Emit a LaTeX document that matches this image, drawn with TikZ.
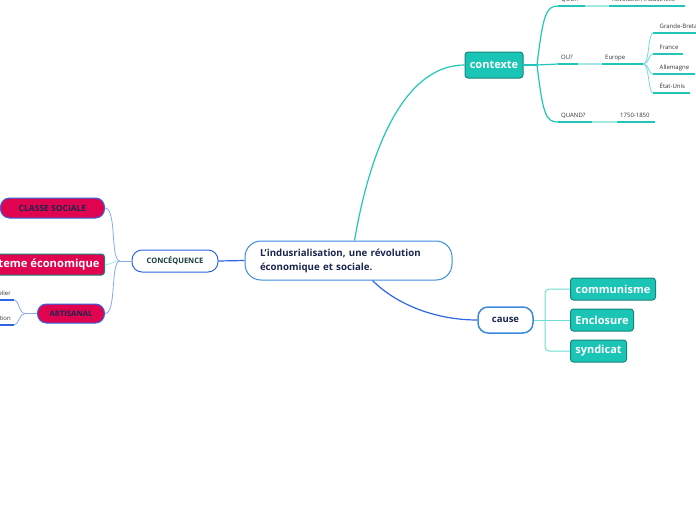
\documentclass[tikz,border=0pt]{standalone}
\usepackage{fontspec}
\setmainfont{Open Sans}
\usetikzlibrary{positioning}

\definecolor{tealfill}{HTML}{1BC5B6}
\definecolor{tealdark}{HTML}{13867C}
\definecolor{tealline}{HTML}{22C6B8}
\definecolor{teallight}{HTML}{A2E9E3}
\definecolor{tealmid}{HTML}{6FDCD3}
\definecolor{bluebord}{HTML}{3B8BDD}
\definecolor{blueline}{HTML}{2F66E4}
\definecolor{bluelight}{HTML}{86A9F0}
\definecolor{redfill}{HTML}{E0034F}
\definecolor{navy}{HTML}{1B2650}
\definecolor{darkgreen}{HTML}{173A3A}

\newcommand{\leaffont}{\fontsize{6}{7}\selectfont}
\newcommand{\indentleaf}{\hspace*{3.5pt}}

\tikzset{
  mainnode/.style={draw=bluebord, line width=1pt, fill=white, rounded corners=16pt,
    text=navy, font=\fontsize{9.7}{14}\selectfont\bfseries, align=left,
    text width=177pt, inner xsep=15pt, minimum height=39pt},
  topic/.style={draw=#1, line width=1.2pt, fill=white, rounded corners=10pt,
    text=navy, inner sep=0pt},
  tealbox/.style={draw=tealdark, fill=tealfill, text=white, line width=1pt,
    rounded corners=3pt, font=\fontsize{11}{13}\selectfont\bfseries,
    inner sep=0pt, minimum height=22pt},
  redbox/.style={draw=#1, fill=redfill, line width=1pt, inner sep=0pt,
    font=\fontsize{8.5}{10}\selectfont\bfseries, text=navy, rounded corners=9pt},
  leaf/.style={anchor=south west, inner xsep=3pt, inner ysep=4.5pt,
    text height=4pt, text depth=0pt, font=\leaffont, text=black!80, text width=#1},
  leafr/.style={anchor=south east, inner xsep=3pt, inner ysep=4.5pt,
    text height=4pt, text depth=0pt, font=\leaffont, text=black!80},
  underline/.style={draw=#1, line width=1.3pt},
  conn/.style={draw=#1, line width=0.8pt}
}

\begin{document}
\begin{tikzpicture}[x=1pt, y=-1pt]
  \useasboundingbox (0,0) rectangle (696,520);

  % centre
  \node[mainnode] (root) at (348.5,260.5)
    {L'indusrialisation, une révolution\\économique et sociale.};

  % contexte
  \node[tealbox, minimum width=58pt, minimum height=26pt] (contexte) at (494,65) {contexte};
  \coordinate (ctxfork) at (537,65);
  \node[leaf=21pt] (quoi) at (558,6) {QUOI?};
  \node[leaf=70pt] (revol) at (609,6) {Révolution industrielle};
  \node[leaf=14pt] (ou) at (558,64) {OU?};
  \node[leaf=35pt] (europe) at (602,64) {Europe};
  \node[leaf=60pt] (grande) at (653,33) {\indentleaf Grande-Bretagne};
  \node[leaf=24pt] (france) at (653,54) {\indentleaf France};
  \node[leaf=36pt] (allemagne) at (653,74) {\indentleaf Allemagne};
  \node[leaf=31pt] (etats) at (653,93) {\indentleaf État-Unis};
  \node[leaf=28pt] (quand) at (558,122) {QUAND?};
  \node[leaf=32pt] (dates) at (617,122) {1750-1850};

  % cause
  \node[topic=bluebord, line width=1.5pt, minimum width=55pt, minimum height=26pt,
    font=\fontsize{9.5}{11}\selectfont\bfseries] (cause) at (505.5,320) {cause};
  \coordinate (causefork) at (545,320);
  \node[tealbox, anchor=west, minimum width=85pt] (communisme) at (570,289) {communisme};
  \node[tealbox, anchor=west, minimum width=63pt] (enclosure) at (570,320) {Enclosure};
  \node[tealbox, anchor=west, minimum width=56pt] (syndicat) at (570,351) {syndicat};

  % conséquence
  \node[topic=blueline, line width=1pt, minimum width=86pt, minimum height=22pt,
    text=darkgreen, font=\fontsize{7.5}{9}\selectfont\bfseries] (consequence) at (175,261) {CONCÉQUENCE};
  \coordinate (consfork) at (120,261);
  \node[redbox=blueline, anchor=east, minimum width=104pt, minimum height=20pt] (classe) at (105,208) {CLASSE SOCIALE};
  \node[redbox=tealdark, anchor=east, rounded corners=3pt, inner xsep=5pt, minimum height=21pt,
    text=white, font=\fontsize{11.2}{13}\selectfont\bfseries] (systeme) at (105,264.5) {Systeme économique};
  \node[redbox=blueline, anchor=east, minimum width=67pt, minimum height=19pt,
    font=\fontsize{7.7}{9}\selectfont\bfseries] (artisanal) at (105,313.5) {ARTISANAL};
  \coordinate (artfork) at (25,313.5);
  \node[leafr] (atelier) at (14,300) {Atelier};
  \node[leafr] (fabrication) at (14,325) {Fabrication};

  % branches principales
  \draw[conn=tealline, line width=1.2pt] ([xshift=6pt]root.north) .. controls +(18,-105) and +(-55,0) .. (contexte.west);
  \draw[conn=blueline, line width=1.2pt] ([xshift=24pt]root.south) .. controls +(25,25) and +(-40,0) .. (cause.west);
  \draw[conn=blueline, line width=1.2pt] (root.west) -- (consequence.east);

  % contexte
  \draw[conn=tealline, line width=1.2pt] (contexte.east) -- (ctxfork);
  \draw[conn=tealline, line width=1.2pt] (ctxfork) .. controls +(6,-50) and +(-12,0) .. (quoi.south west);
  \draw[conn=tealline, line width=1.2pt] (ctxfork) -- (ou.south west);
  \draw[conn=tealline, line width=1.2pt] (ctxfork) .. controls +(6,50) and +(-12,0) .. (quand.south west);
  \foreach \n in {quoi,revol,ou,europe,grande,france,allemagne,etats,quand,dates}
    \draw[underline=tealline] (\n.south west) -- (\n.south east);
  \draw[conn=teallight, line width=1.2pt] (quoi.south east) -- (revol.south west);
  \draw[conn=teallight, line width=1.2pt] (ou.south east) -- (europe.south west);
  \draw[conn=teallight, line width=1.2pt] (quand.south east) -- (dates.south west);
  \foreach \n in {grande,france,allemagne,etats}
    \draw[conn=tealmid] (europe.south east) .. controls +(6,0) and +(-5,0) .. (\n.south west);

  % cause
  \draw[conn=tealmid, line width=1pt] (cause.east) -- (enclosure.west);
  \draw[conn=tealmid, line width=1pt, rounded corners=4pt] (causefork) |- (communisme.west);
  \draw[conn=tealmid, line width=1pt, rounded corners=4pt] (causefork) |- (syndicat.west);

  % conséquence
  \draw[conn=bluelight] (consequence.west) -- (consfork);
  \draw[conn=bluelight] (consfork) .. controls +(-10,0) and +(12,0) .. (classe.east);
  \draw[conn=teallight] (consfork) .. controls +(-8,0) and +(8,0) .. (systeme.east);
  \draw[conn=bluelight] (consfork) .. controls +(-10,0) and +(12,0) .. (artisanal.east);
  \draw[conn=bluelight] (artisanal.west) -- (artfork);
  \draw[conn=bluelight] (artfork) .. controls +(-6,0) and +(5,0) .. (atelier.south east);
  \draw[conn=bluelight] (artfork) .. controls +(-6,0) and +(5,0) .. (fabrication.south east);
  \foreach \n in {atelier,fabrication}
    \draw[underline=blueline] (\n.south west) -- (\n.south east);
\end{tikzpicture}
\end{document}
